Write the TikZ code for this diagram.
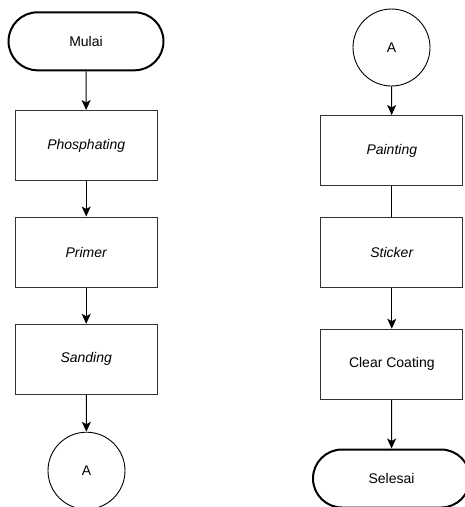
\documentclass[tikz,border=0pt]{standalone}
\usepackage{fontspec}
\setmainfont{Liberation Sans}
\usetikzlibrary{arrows.meta,shapes.misc}
\begin{document}
\begin{tikzpicture}[x=1pt,y=-1pt,
  every node/.style={font=\fontsize{14}{16}\selectfont},
  terminal/.style={draw=black,line width=2pt,rounded rectangle,minimum width=155pt,minimum height=58pt,inner sep=0pt},
  process/.style={draw=black!80,line width=1pt,rectangle,minimum width=142pt,minimum height=70pt,inner sep=0pt},
  connector/.style={draw=black,line width=0.9pt,circle,minimum size=77pt,inner sep=0pt},
  flow/.style={draw=black,line width=1pt,-{Stealth[length=10pt,width=9pt,inset=2.5pt]}},
  plain/.style={draw=black,line width=1pt}
]
\useasboundingbox (0,0) rectangle (465,507);
\clip (0,0) rectangle (465,507);
\node[terminal] (mulai) at (86,41.3) {Mulai};
\node[process] (phos) at (86.2,145.5) {\itshape Phosphating};
\node[process] (primer) at (86.2,252) {\itshape Primer};
\node[process] (sand) at (86.2,359.3) {\itshape Sanding};
\node[connector] (a1) at (86.5,470.7) {A};
\node[connector] (a2) at (391.5,47.5) {A};
\node[process] (paint) at (391.8,150.5) {\itshape Painting};
\node[process] (stick) at (391.8,252) {\itshape Sticker};
\node[process] (clear) at (391.8,364.2) {Clear Coating};
\node[terminal,minimum width=157pt] (selesai) at (391.5,478.5) {Selesai};
\draw[flow] (mulai) -- (phos);
\draw[flow] (phos) -- (primer);
\draw[flow] (primer) -- (sand);
\draw[flow] (sand) -- (a1);
\draw[flow] (a2) -- (paint);
\draw[plain] (paint) -- (stick);
\draw[flow] (stick) -- (clear);
\draw[flow] (clear) -- (selesai);
\end{tikzpicture}
\end{document}
